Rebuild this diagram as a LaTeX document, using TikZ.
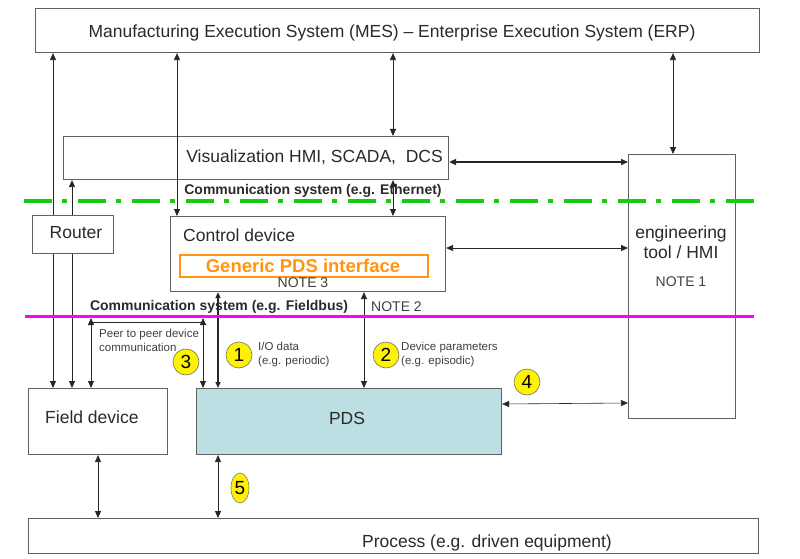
\documentclass[tikz,border=0pt]{standalone}
\usepackage{fontspec}
\setmainfont{Liberation Sans}
\usetikzlibrary{arrows.meta,shapes.geometric}
\definecolor{bordergray}{HTML}{606060}
\definecolor{txt}{HTML}{2A2A2A}
\definecolor{notegray}{HTML}{404040}
\definecolor{pdsfill}{HTML}{BBDFE3}
\definecolor{orangeif}{HTML}{FF9410}
\definecolor{ethgreen}{HTML}{14CC14}
\definecolor{busmag}{HTML}{FF00FF}
\tikzset{
  >={Triangle[length=7pt,width=6pt]},
  boxnode/.style={draw=bordergray, line width=1.1pt, inner sep=0pt, anchor=north west},
  conn/.style={<->, draw=black!85, line width=0.8pt},
  bigtext/.style={text=txt, inner sep=0pt, font=\fontsize{17.5}{20}\selectfont},
  boldtext/.style={text=txt, inner sep=0pt, font=\fontsize{14}{16}\selectfont\bfseries},
  notetext/.style={text=notegray, inner sep=0pt, font=\fontsize{14}{16}\selectfont},
  smalltext/.style={text=notegray, inner sep=0pt, align=left, anchor=west, font=\fontsize{11.5}{14}\selectfont},
  numcirc/.style={circle, draw=black!55, line width=0.6pt, fill=yellow, inner sep=0pt, minimum size=26pt, text=black, font=\fontsize{19}{19}\selectfont},
}
\begin{document}
\begin{tikzpicture}[x=1pt,y=-1pt]
\useasboundingbox (0,0) rectangle (800,559);
\fill[white] (0,0) rectangle (800,559);

% boxes
\node[boxnode, minimum width=724pt, minimum height=44pt] (mes) at (35,8) {};
\node[boxnode, minimum width=385pt, minimum height=43pt] (vis) at (63,136) {};
\node[boxnode, minimum width=275pt, minimum height=75pt] (ctrl) at (170,216) {};
\node[draw=orangeif, line width=2pt, inner sep=0pt, anchor=north west, minimum width=248pt, minimum height=22pt] (gpds) at (179,254) {};
\node[boxnode, minimum width=107pt, minimum height=264pt] (eng) at (628,154) {};
\node[boxnode, fill=white, minimum width=139pt, minimum height=66pt] (fd) at (28,388) {};
\node[boxnode, fill=pdsfill, minimum width=305pt, minimum height=66pt] (pds) at (196,388) {};
\node[boxnode, minimum width=730pt, minimum height=35pt] (proc) at (28,518) {};

% x positions
\coordinate (xa) at (53,0);
\coordinate (xb) at (72,0);
\coordinate (xc) at (91,0);
\coordinate (xd) at (98,0);
\coordinate (xe) at (177,0);
\coordinate (xf) at (203,0);
\coordinate (xg) at (218,0);
\coordinate (xh) at (364,0);
\coordinate (xi) at (393,0);
\coordinate (xj) at (673,0);
\coordinate (ybus) at (0,318);
\coordinate (ypp) at (0,322);

% connectors
\draw[conn] (xa |- mes.south) -- (xa |- fd.north);
\draw[conn] (xb |- vis.south) -- (xb |- fd.north);
\draw[conn] (xc |- ybus) -- (xc |- fd.north);
\draw[conn] (xf |- ybus) -- (xf |- pds.north);
\coordinate (ppl) at (xc |- ypp);
\coordinate (ppr) at (xf |- ypp);
\draw[draw=black!85, line width=0.8pt] (ppl) -- (ppr);
\draw[conn] (xe |- mes.south) -- (xe |- ctrl.north);
\draw[conn] (xi |- mes.south) -- (xi |- vis.north);
\draw[conn] (xi |- vis.south) -- (xi |- ctrl.north);
\draw[conn] (xj |- mes.south) -- (xj |- eng.north);
\draw[conn, line width=1.6pt] (vis.east |- 0,162) -- (eng.west |- 0,162);
\draw[conn] (ctrl.east |- 0,248) -- (eng.west |- 0,248);
\draw[conn, line width=0.6pt] (pds.east |- 0,404) -- (eng.west |- 0,403);
\draw[conn, line width=2.6pt, >={Triangle[length=6pt,width=5pt]}] (xg |- ctrl.south) -- (xg |- pds.north);
\draw[conn] (xh |- ctrl.south) -- (xh |- pds.north);
\draw[conn] (xd |- fd.south) -- (xd |- proc.north);
\draw[conn] (xg |- pds.south) -- (xg |- proc.north);

% router on top of the lines
\node[boxnode, fill=white, minimum width=81pt, minimum height=38pt] (router) at (32,215) {};

% communication lines
\coordinate (gl) at (24,201);
\coordinate (gr) at (757,201);
\draw[ethgreen, line width=4pt, dash pattern=on 28pt off 10pt on 5pt off 11pt] (gl) -- (gr);
\coordinate (ml) at (25,316);
\coordinate (mr) at (754,316);
\draw[busmag, line width=3pt] (ml) -- (mr);

% texts
\node[bigtext] (tmes) at (392,33) {Manufacturing Execution System (MES) – Enterprise Execution System (ERP)};
\node[bigtext, anchor=east] (tvis) at (443,157) {Visualization HMI, SCADA,\ \ DCS};
\node[boldtext] (teth) at (313,191) {Communication system (e.g. Ethernet)};
\node[bigtext] (trouter) at (76,233) {Router};
\node[bigtext, anchor=west] (tctrl) at (183,235) {Control device};
\node[text=orangeif, inner sep=0pt, font=\fontsize{18.5}{20}\selectfont\bfseries] (tgpds) at (303,266) {Generic PDS interface};
\node[notetext] (tn3) at (303,283) {NOTE 3};
\node[bigtext, align=center] (teng) at (681,242) {engineering\\tool / HMI};
\node[notetext] (tn1) at (681,282) {NOTE 1};
\node[boldtext] (tfb) at (219,307) {Communication system (e.g. Fieldbus)};
\node[notetext, anchor=west] (tn2) at (371,307) {NOTE 2};
\node[smalltext] (tpp) at (99,340) {Peer to peer device\\communication};
\node[smalltext] (tio) at (258,355) {I/O data\\(e.g. periodic)};
\node[smalltext] (tdp) at (401,355) {Device parameters\\(e.g. episodic)};
\node[bigtext, anchor=west] (tfd) at (45,417) {Field device};
\node[bigtext] (tpds) at (347,418) {PDS};
\node[bigtext] (tproc) at (487,543) {Process (e.g. driven equipment)};

% numbered circles
\node[numcirc] (c1) at (239,355) {1};
\node[numcirc] (c2) at (386,355) {2};
\node[numcirc] (c3) at (186,362) {3};
\node[numcirc] (c4) at (527,382) {4};
\node[ellipse, draw=black!55, line width=0.6pt, fill=yellow, inner sep=0pt, minimum width=18pt, minimum height=30pt, font=\fontsize{19}{19}\selectfont] (c5) at (240,488) {5};
\end{tikzpicture}
\end{document}
